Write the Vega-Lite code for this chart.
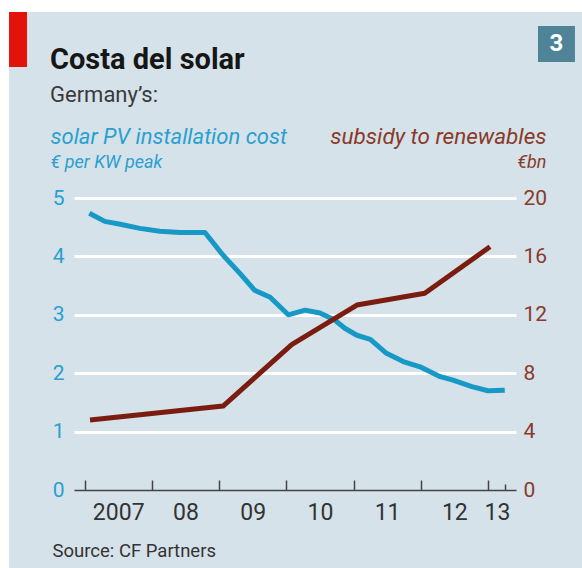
{
  "$schema": "https://vega.github.io/schema/vega-lite/v6.json",
  "width": 573,
  "height": 556,
  "autosize": {"type": "none"},
  "padding": {"left": 9, "top": 12, "right": 0, "bottom": 0},
  "background": "#ffffff",
  "config": {
    "view": {"fill": "#d5e2e9", "stroke": null},
    "font": "Roboto",
    "axisX": {"labelOverlap": false, "tickCount": 40, "tickMinStep": 0.01}
  },
  "title": {
    "text": "Costa del solar",
    "subtitle": "Germany’s:",
    "anchor": "start",
    "frame": "group",
    "orient": "top",
    "offset": -94,
    "dx": 41,
    "font": "Roboto",
    "fontSize": 29,
    "fontWeight": "bold",
    "color": "#161616",
    "subtitleFont": "Roboto",
    "subtitleFontSize": 22,
    "subtitleColor": "#3a3a3a",
    "subtitlePadding": 10
  },
  "datasets": {
    "cost": [
      {"year": 2007.07, "cost": 4.74},
      {"year": 2007.30, "cost": 4.60},
      {"year": 2007.53, "cost": 4.55},
      {"year": 2007.82, "cost": 4.48},
      {"year": 2008.12, "cost": 4.43},
      {"year": 2008.42, "cost": 4.41},
      {"year": 2008.79, "cost": 4.41},
      {"year": 2009.06, "cost": 4.02},
      {"year": 2009.31, "cost": 3.71},
      {"year": 2009.53, "cost": 3.42},
      {"year": 2009.76, "cost": 3.30},
      {"year": 2010.03, "cost": 3.00},
      {"year": 2010.28, "cost": 3.08},
      {"year": 2010.50, "cost": 3.03},
      {"year": 2010.72, "cost": 2.91},
      {"year": 2010.87, "cost": 2.77},
      {"year": 2011.05, "cost": 2.65},
      {"year": 2011.25, "cost": 2.58},
      {"year": 2011.49, "cost": 2.34},
      {"year": 2011.74, "cost": 2.20},
      {"year": 2011.99, "cost": 2.11},
      {"year": 2012.29, "cost": 1.94},
      {"year": 2012.48, "cost": 1.88},
      {"year": 2012.76, "cost": 1.77},
      {"year": 2013.00, "cost": 1.70},
      {"year": 2013.25, "cost": 1.71}
    ],
    "subsidy": [
      {"year": 2007.08, "subsidy": 4.8},
      {"year": 2009.06, "subsidy": 5.75},
      {"year": 2010.08, "subsidy": 9.95},
      {"year": 2011.05, "subsidy": 12.67},
      {"year": 2012.06, "subsidy": 13.47},
      {"year": 2013.03, "subsidy": 16.66}
    ]
  },
  "layer": [
    {
      "data": {"name": "cost"},
      "mark": {"type": "line", "color": "#1799c7", "strokeWidth": 5, "strokeJoin": "round"},
      "encoding": {
        "x": {
          "field": "year",
          "type": "quantitative",
          "scale": {"domain": [2006.842, 2013.417], "range": [65, 507]},
          "axis": {
            "orient": "bottom",
            "offset": -78,
            "values": [2007, 2008, 2009, 2010, 2011, 2012, 2013, 2013.25],
            "tickCount": 40,
            "tickMinStep": 0.01,
            "format": "d",
            "labelExpr": "datum.value > 2013.1 ? '' : datum.value < 2007.5 ? '2007' : slice(datum.label, 2)",
            "labelOffset": {"condition": {"test": "datum.value > 2012.5", "value": 9}, "value": 33.6},
            "labelFlush": false,
            "labelOverlap": false,
            "labelBound": false,
            "labelFont": "Roboto",
            "labelFontSize": 23,
            "labelColor": "#333333",
            "labelPadding": 21,
            "tickSize": {"condition": {"test": "datum.value > 2013.1", "value": -6}, "value": -10},
            "tickColor": "#444444",
            "tickWidth": 1.5,
            "domainColor": "#444444",
            "domainWidth": 1.5,
            "grid": false,
            "zindex": 2,
            "title": "Source: CF Partners",
            "titleX": 43,
            "titleY": 66,
            "titleAlign": "left",
            "titleBaseline": "alphabetic",
            "titleFont": "Roboto",
            "titleFontSize": 18.5,
            "titleFontWeight": "normal",
            "titleColor": "#333333"
          }
        },
        "y": {
          "field": "cost",
          "type": "quantitative",
          "scale": {"domain": [0, 5], "range": [478, 186]},
          "axis": {
            "orient": "left",
            "offset": -65,
            "values": [0, 1, 2, 3, 4, 5],
            "labelColor": "#2a9fd0",
            "labelFont": "Roboto",
            "labelFontSize": 21,
            "labelPadding": 10,
            "labelOverlap": false,
            "labelBound": false,
            "labelFlush": false,
            "ticks": false,
            "domain": false,
            "grid": true,
            "gridColor": "#ffffff",
            "gridWidth": 3,
            "gridOpacity": {"condition": {"test": "datum.value == 0", "value": 0}, "value": 1},
            "title": "solar PV installation cost",
            "titleX": -24,
            "titleY": 131,
            "titleAngle": 0,
            "titleAlign": "left",
            "titleBaseline": "alphabetic",
            "titleFont": "Roboto",
            "titleFontSize": 22,
            "titleFontStyle": "italic",
            "titleFontWeight": "normal",
            "titleColor": "#2a9fd0"
          }
        }
      }
    },
    {
      "data": {"name": "subsidy"},
      "mark": {"type": "line", "color": "#7a1c10", "strokeWidth": 5, "strokeJoin": "round"},
      "encoding": {
        "x": {"field": "year", "type": "quantitative", "scale": {"domain": [2006.842, 2013.417], "range": [65, 507]}},
        "y": {
          "field": "subsidy",
          "type": "quantitative",
          "scale": {"domain": [0, 20], "range": [478, 186]},
          "axis": {
            "orient": "right",
            "offset": -66,
            "values": [0, 4, 8, 12, 16, 20],
            "labelColor": "#8a3a2a",
            "labelFont": "Roboto",
            "labelFontSize": 21,
            "labelPadding": 7,
            "labelOverlap": false,
            "labelBound": false,
            "labelFlush": false,
            "ticks": false,
            "domain": false,
            "grid": false,
            "title": "subsidy to renewables",
            "titleX": 30,
            "titleY": 131,
            "titleAngle": 0,
            "titleAlign": "right",
            "titleBaseline": "alphabetic",
            "titleFont": "Roboto",
            "titleFontSize": 22.5,
            "titleFontStyle": "italic",
            "titleFontWeight": "normal",
            "titleColor": "#8a3a2a"
          }
        }
      }
    },
    {
      "data": {"values": [{}]},
      "mark": {"type": "rect", "color": "#e3120b"},
      "encoding": {
        "x": {"datum": 2005.8755, "type": "quantitative", "scale": {"domain": [2006.842, 2013.417], "range": [65, 507]}},
        "x2": {"datum": 2006.1432},
        "y": {
          "datum": 8.185,
          "type": "quantitative",
          "scale": {"domain": [0, 5], "range": [478, 186]},
          "axis": {
            "orient": "left",
            "offset": -65,
            "labels": false,
            "ticks": false,
            "domain": false,
            "grid": false,
            "title": "€ per KW peak",
            "titleX": -24,
            "titleY": 155,
            "titleAngle": 0,
            "titleAlign": "left",
            "titleBaseline": "alphabetic",
            "titleFont": "Roboto",
            "titleFontSize": 18,
            "titleFontStyle": "italic",
            "titleFontWeight": "normal",
            "titleColor": "#2a9fd0"
          }
        },
        "y2": {"datum": 7.243}
      }
    },
    {
      "data": {"values": [{}]},
      "mark": {"type": "rect", "color": "#4e8398"},
      "encoding": {
        "x": {"datum": 2013.744, "type": "quantitative", "scale": {"domain": [2006.842, 2013.417], "range": [65, 507]}},
        "x2": {"datum": 2014.294},
        "y": {
          "datum": 7.945,
          "type": "quantitative",
          "scale": {"domain": [0, 5], "range": [478, 186]},
          "axis": {
            "orient": "right",
            "offset": -66,
            "labels": false,
            "ticks": false,
            "domain": false,
            "grid": false,
            "title": "€bn",
            "titleX": 30,
            "titleY": 155,
            "titleAngle": 0,
            "titleAlign": "right",
            "titleBaseline": "alphabetic",
            "titleFont": "Roboto",
            "titleFontSize": 18,
            "titleFontStyle": "italic",
            "titleFontWeight": "normal",
            "titleColor": "#8a3a2a"
          }
        },
        "y2": {"datum": 7.329}
      }
    },
    {
      "data": {"values": [{}]},
      "mark": {"type": "text", "text": "3", "color": "#ffffff", "font": "Roboto", "fontSize": 24, "fontWeight": "bold", "align": "center", "baseline": "middle"},
      "encoding": {
        "x": {"datum": 2014.019, "type": "quantitative", "scale": {"domain": [2006.842, 2013.417], "range": [65, 507]}},
        "y": {"datum": 7.637, "type": "quantitative", "scale": {"domain": [0, 5], "range": [478, 186]}, "axis": null}
      }
    }
  ],
  "resolve": {"scale": {"y": "independent"}, "axis": {"y": "independent"}}
}
